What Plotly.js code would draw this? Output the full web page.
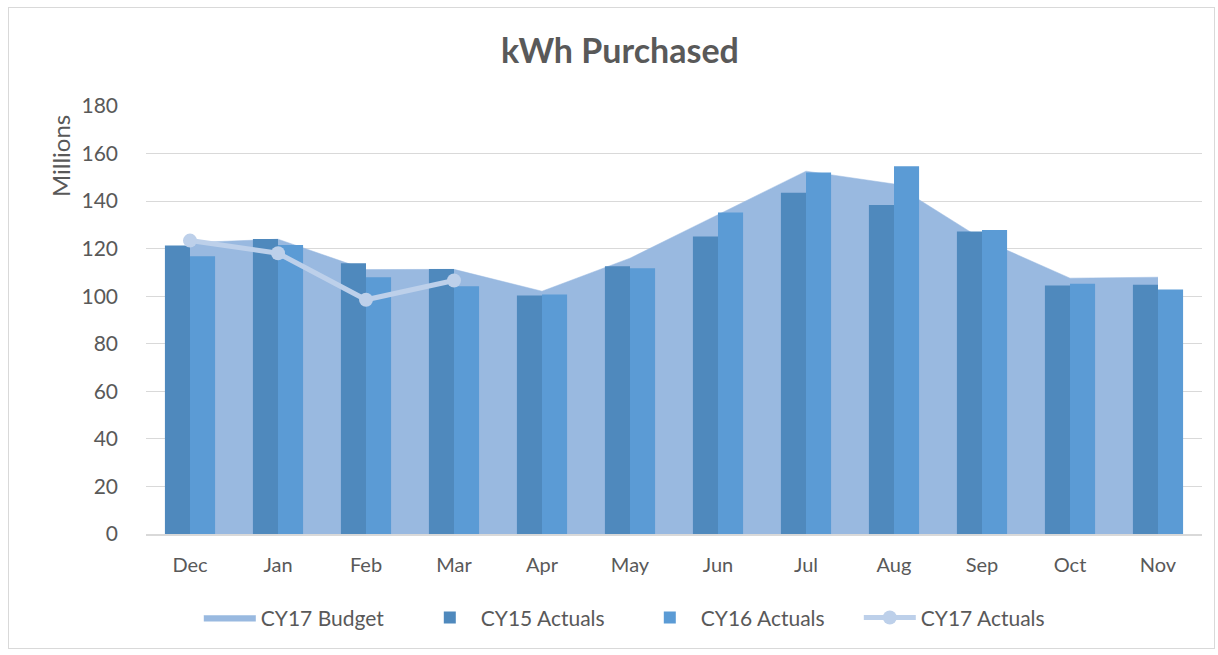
<!DOCTYPE html>
<html>
<head>
<meta charset="utf-8">
<script src="https://cdn.plot.ly/plotly-3.0.1.min.js"></script>
<style>
  html, body { margin: 0; padding: 0; background: #ffffff; }
  #frame { position: absolute; left: 8px; top: 7px; width: 1207px; height: 642px; border: 1px solid #d9d9d9; box-sizing: border-box; pointer-events: none; z-index: 2; }
  #chart { position: absolute; left: 0; top: 0; width: 1218px; height: 655px; }
</style>
</head>
<body>
<div id="chart"></div>
<div id="frame"></div>
<script>
const months = ["Dec", "Jan", "Feb", "Mar", "Apr", "May", "Jun", "Jul", "Aug", "Sep", "Oct", "Nov"];
const cy17Budget = [122.5, 124.0, 111.2, 111.3, 102.1, 116.0, 134.3, 152.6, 147.2, 124.0, 107.6, 108.0];
const cy15Actuals = [121.3, 124.1, 113.9, 111.4, 100.3, 112.6, 125.1, 143.5, 138.4, 127.2, 104.5, 104.8];
const cy16Actuals = [116.8, 121.5, 108.0, 104.2, 100.7, 111.8, 135.2, 152.0, 154.7, 127.9, 105.2, 102.8];
const cy17Months = ["Dec", "Jan", "Feb", "Mar"];
const cy17Actuals = [123.4, 118.1, 98.5, 106.6];
const yTicks = [0, 20, 40, 60, 80, 100, 120, 140, 160, 180];

const FONT = "Lato, 'Open Sans', sans-serif";
const GREY = "#595959";

const traces = [
  {
    name: "CY17 Budget", type: "scatter", mode: "lines",
    x: months, y: cy17Budget, xaxis: "x", yaxis: "y",
    fill: "tozeroy", fillcolor: "#99b9e0",
    line: { color: "#99b9e0", width: 0.5 },
    hoverinfo: "x+y+name"
  },
  {
    name: "CY15 Actuals", type: "bar",
    x: months, y: cy15Actuals, xaxis: "x2", yaxis: "y2",
    marker: { color: "#4f89bd" }
  },
  {
    name: "CY16 Actuals", type: "bar",
    x: months, y: cy16Actuals, xaxis: "x2", yaxis: "y2",
    marker: { color: "#5b9bd5" }
  },
  {
    name: "CY17 Actuals", type: "scatter", mode: "lines+markers",
    x: cy17Months, y: cy17Actuals, xaxis: "x2", yaxis: "y2",
    line: { color: "#bdd0ea", width: 5 },
    marker: { color: "#bdd0ea", size: 14 }
  }
];

const axisCommonX = {
  type: "category",
  categoryorder: "array",
  categoryarray: months,
  range: [-0.5, 11.5]
};

const layout = {
  width: 1218, height: 655,
  margin: { l: 146, r: 16, t: 106, b: 121, autoexpand: false },
  paper_bgcolor: "#ffffff",
  plot_bgcolor: "rgba(0,0,0,0)",
  font: { family: FONT, color: GREY, size: 20 },
  title: {
    text: "<b>kWh Purchased</b>",
    font: { family: FONT, size: 34, color: GREY },
    x: 0.509, xref: "container", xanchor: "center",
    y: 0.922, yref: "container", yanchor: "middle"
  },
  barmode: "group",
  bargap: 0.43,
  bargroupgap: 0,
  showlegend: true,
  legend: {
    orientation: "h",
    x: 0.05, xanchor: "left",
    y: -0.196, yanchor: "middle",
    font: { family: FONT, size: 21, color: GREY },
    itemwidth: 52,
    entrywidth: 153, entrywidthmode: "pixels",
    traceorder: "normal",
    bgcolor: "rgba(0,0,0,0)"
  },
  xaxis: Object.assign({}, axisCommonX, {
    showgrid: false,
    showline: true, linecolor: "#d9d9d9", linewidth: 1.5,
    ticks: "",
    tickfont: { family: FONT, size: 20, color: GREY },
    ticklabelstandoff: 12,
    zeroline: false
  }),
  yaxis: {
    range: [0, 180],
    tickvals: yTicks,
    ticktext: yTicks.map(String),
    showgrid: true, gridcolor: "#d9d9d9", gridwidth: 1,
    zeroline: false, showline: false,
    ticks: "",
    tickfont: { family: FONT, size: 21, color: GREY },
    ticklabelstandoff: 27
  },
  xaxis2: Object.assign({}, axisCommonX, {
    overlaying: "x", anchor: "y2",
    showgrid: false, showline: false, showticklabels: false, ticks: "", zeroline: false
  }),
  yaxis2: {
    overlaying: "y", anchor: "x2",
    range: [0, 180],
    showgrid: false, showline: false, showticklabels: false, ticks: "", zeroline: false
  },
  annotations: [
    {
      text: "Millions", textangle: -90,
      xref: "paper", yref: "paper",
      x: -0.0814, y: 0.883, xanchor: "center", yanchor: "middle",
      showarrow: false,
      font: { family: FONT, size: 24, color: GREY }
    }
  ]
};

Plotly.newPlot("chart", traces, layout, { displayModeBar: false, staticPlot: true });
</script>
</body>
</html>
